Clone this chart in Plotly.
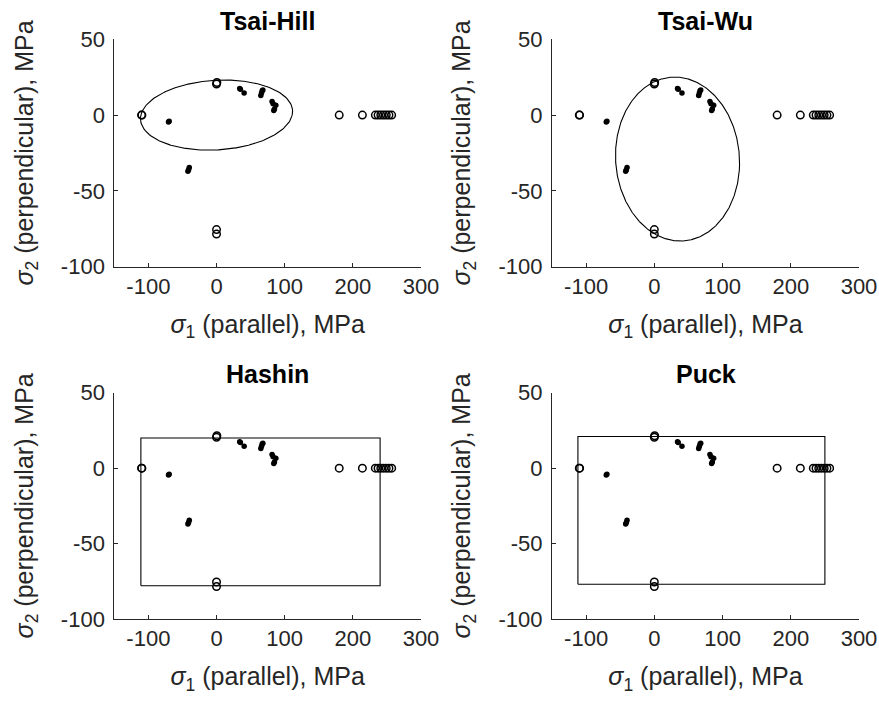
import numpy as np
import plotly.graph_objects as go

# ---------------- data ----------------
# failure points drawn as open circles (sigma_1, sigma_2) in MPa
open_s1 = [-110, -109.5, 0, 0.5, 0, 0, 180, 214, 233, 237, 241, 245, 249, 253, 257]
open_s2 = [0, 0, 20.5, 21.5, -75.5, -78.5, 0, 0, 0, 0, 0, 0, 0, 0, 0]

# failure points drawn as small filled dots
dot_s1 = [-70.5, -69.5, -42, -41, -40, 34, 35, 40.5, 65, 66, 67, 68, 81.5, 83, 87, 85, 84]
dot_s2 = [-4.5, -4.0, -37, -36, -34.5, 17.5, 17, 14.5, 13, 14.5, 16, 16.5, 9, 7.5, 6.5, 4, 3]

x_tick_vals = [-100, 0, 100, 200, 300]
x_tick_text = ["-100", "0", "100", "200", "300"]
y_tick_vals = [-100, -50, 0, 50]
y_tick_text = ["-100", "-50", "0", "50"]

titles = ["Tsai-Hill", "Tsai-Wu", "Hashin", "Puck"]

# failure-envelope parameters (MPa)
TH_X, TH_Y = 111, 23                       # Tsai-Hill strengths
TW_C1, TW_C2 = 34, -29                     # Tsai-Wu ellipse centre
TW_A, TW_B, TW_ROT = 91, 54, -0.04         # semi-axes and rotation (rad)
HASHIN_X = [-111, 240]                     # compressive / tensile, parallel
HASHIN_Y = [-78, 20]                       # compressive / tensile, perpendicular
PUCK_X = [-112, 250]
PUCK_Y = [-77, 21]

# ---------------- envelopes ----------------
t = np.linspace(0, 2 * np.pi, 721)
c, s = np.cos(t), np.sin(t)
q = c**2 / TH_X**2 - c * s / TH_X**2 + s**2 / TH_Y**2
r = 1 / np.sqrt(q)
th_x, th_y = r * c, r * s

ex, ey = TW_A * c, TW_B * s
tw_x = TW_C1 + ex * np.cos(TW_ROT) - ey * np.sin(TW_ROT)
tw_y = TW_C2 + ex * np.sin(TW_ROT) + ey * np.cos(TW_ROT)


def rect(xs, ys):
    return ([xs[0], xs[1], xs[1], xs[0], xs[0]],
            [ys[0], ys[0], ys[1], ys[1], ys[0]])


ha_x, ha_y = rect(HASHIN_X, HASHIN_Y)
pu_x, pu_y = rect(PUCK_X, PUCK_Y)
envelopes = [(th_x, th_y), (tw_x, tw_y), (ha_x, ha_y), (pu_x, pu_y)]

# ---------------- figure ----------------
W, H = 879, 701
FONT = "Liberation Sans, Arial, Helvetica, sans-serif"
AX = "#262626"


def px_x(v):
    return v / W


def px_y(v):
    return 1 - v / H


x_domains = [[px_x(114.3), px_x(421)], [px_x(552), px_x(859)]]
y_domains = [[px_y(266.7), px_y(39.3)], [px_y(619), px_y(392.7)]]

fig = go.Figure()
layout = dict(
    width=W, height=H,
    margin=dict(l=0, r=0, t=0, b=0),
    paper_bgcolor="white", plot_bgcolor="white",
    showlegend=False,
    font=dict(family=FONT, color=AX),
)
annotations = []

for i in range(4):
    row, col = divmod(i, 2)
    n = i + 1
    xa = "x" if n == 1 else f"x{n}"
    ya = "y" if n == 1 else f"y{n}"
    ex_, ey_ = envelopes[i]
    fig.add_trace(go.Scatter(x=ex_, y=ey_, mode="lines", xaxis=xa, yaxis=ya,
                             line=dict(color="black", width=1.1),
                             hoverinfo="skip"))
    fig.add_trace(go.Scatter(x=dot_s1, y=dot_s2, mode="markers", xaxis=xa, yaxis=ya,
                             marker=dict(symbol="circle", size=5.5, color="black")))
    fig.add_trace(go.Scatter(x=open_s1, y=open_s2, mode="markers", xaxis=xa, yaxis=ya,
                             marker=dict(symbol="circle-open", size=7.5, color="black",
                                         line=dict(width=1.5, color="black"))))

    common = dict(showline=True, linecolor=AX, linewidth=1, ticks="inside",
                  ticklen=4, tickcolor=AX, tickwidth=1, showgrid=False,
                  zeroline=False, mirror=False, automargin=False,
                  tickfont=dict(family=FONT, size=22, color=AX))
    layout["xaxis" if n == 1 else f"xaxis{n}"] = dict(
        common, domain=x_domains[col], anchor=ya, range=[-150, 300],
        tickmode="array", tickvals=x_tick_vals, ticktext=x_tick_text,
        title=dict(text="<i>σ</i><sub>1</sub> (parallel), MPa",
                   font=dict(family=FONT, size=25, color=AX), standoff=17))
    layout["yaxis" if n == 1 else f"yaxis{n}"] = dict(
        common, domain=y_domains[row], anchor=xa, range=[-100, 50],
        tickmode="array", tickvals=y_tick_vals, ticktext=y_tick_text,
        ticklabelstandoff=4,
        title=dict(text="<i>σ</i><sub>2</sub> (perpendicular), MPa",
                   font=dict(family=FONT, size=25, color=AX), standoff=20))

    title_y = [21, 374][row]
    annotations.append(dict(
        text=f"<b>{titles[i]}</b>", x=(sum(x_domains[col]) / 2), xref="paper",
        y=px_y(title_y), yref="paper", xanchor="center", yanchor="middle",
        showarrow=False, font=dict(family=FONT, size=25, color="black")))

layout["annotations"] = annotations
fig.update_layout(**layout)
fig.write_html(
    "out.html",
    config={"displayModeBar": False},
    post_script="document.body.style.margin='0px';"
                "document.body.style.overflow='hidden';",
)
